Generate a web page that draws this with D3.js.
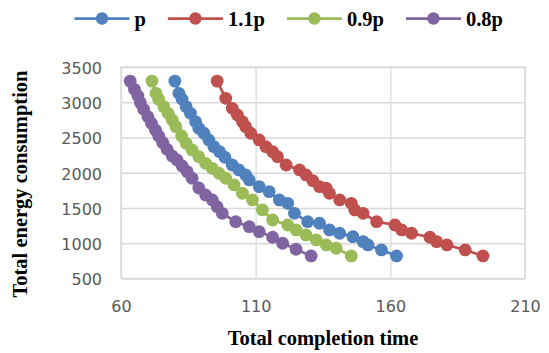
<!DOCTYPE html>
<html>
<head>
<meta charset="utf-8">
<script src="https://cdn.jsdelivr.net/npm/d3@7"></script>
<style>
  body { margin: 0; background: #fff; }
  svg { display: block; }
</style>
</head>
<body>
<div id="chart"></div>
<script>
// series data
const seriesNames = ["p", "1.1p", "0.9p", "0.8p"];

const timeP = [80.0, 81.5, 82.7, 84.2, 85.8, 87.7, 88.9, 90.8, 92.6, 94.5, 96.6, 98.6, 101.3, 103.8, 106.3, 107.6, 111.3, 115.0, 118.8, 121.9, 124.4, 129.3, 133.7, 137.4, 141.2, 146.1, 149.9, 151.7, 156.7, 162.3];
const energyP = [3300, 3127, 3042, 2937, 2843, 2724, 2631, 2560, 2465, 2370, 2299, 2220, 2110, 2040, 1969, 1898, 1803, 1732, 1614, 1567, 1425, 1306, 1284, 1189, 1142, 1094, 1023, 976, 905, 820];

const time11P = [95.7, 98.9, 101.3, 103.2, 105.1, 106.3, 108.2, 111.3, 113.8, 116.3, 118.1, 121.3, 126.3, 128.7, 131.2, 133.7, 136.2, 137.4, 141.2, 145.5, 146.8, 149.9, 154.9, 161.7, 164.2, 167.9, 174.7, 177.2, 181.0, 187.8, 194.4];
const energy11P = [3300, 3056, 2914, 2819, 2724, 2653, 2560, 2465, 2370, 2299, 2228, 2110, 2040, 1969, 1888, 1803, 1780, 1709, 1614, 1567, 1472, 1425, 1306, 1259, 1189, 1142, 1085, 1023, 976, 905, 820];

const time09P = [71.5, 73.0, 74.0, 75.9, 77.5, 79.0, 80.4, 82.5, 84.2, 86.4, 88.9, 91.4, 93.9, 96.4, 98.9, 102.0, 105.1, 108.8, 112.5, 116.3, 121.9, 125.0, 128.7, 132.5, 136.2, 139.9, 145.5];
const energy09P = [3300, 3127, 3042, 2937, 2843, 2748, 2653, 2522, 2418, 2323, 2228, 2134, 2063, 1993, 1922, 1827, 1709, 1614, 1472, 1330, 1259, 1189, 1118, 1047, 976, 929, 820];

const time08P = [63.4, 65.0, 66.3, 67.2, 68.4, 70.0, 71.3, 72.8, 74.0, 75.5, 77.1, 79.0, 80.8, 82.7, 84.6, 86.4, 88.9, 91.4, 93.9, 95.7, 97.6, 102.6, 107.6, 111.3, 116.3, 120.0, 125.0, 130.6];
const energy08P = [3300, 3184, 3089, 2994, 2900, 2795, 2702, 2607, 2522, 2427, 2333, 2238, 2181, 2096, 2015, 1922, 1784, 1685, 1614, 1519, 1425, 1306, 1235, 1165, 1085, 1000, 915, 820];

const xTicks = [60, 110, 160, 210];
const yTicks = [500, 1000, 1500, 2000, 2500, 3000, 3500];

const colors = ["#4F81BD", "#C0504D", "#9BBB59", "#8064A2"];

const series = [
  { name: seriesNames[0], t: timeP, e: energyP },
  { name: seriesNames[1], t: time11P, e: energy11P },
  { name: seriesNames[2], t: time09P, e: energy09P },
  { name: seriesNames[3], t: time08P, e: energy08P }
].map((s, i) => ({
  name: s.name,
  color: colors[i],
  points: s.t.map((t, j) => ({ time: t, energy: s.e[j] }))
}));

const W = 549, H = 353;
const margin = { top: 67, right: 24, bottom: 74.5, left: 121 };
const width = W - margin.left - margin.right;
const height = H - margin.top - margin.bottom;

const serif = "'Liberation Serif', 'Times New Roman', serif";
const sans = "'DejaVu Sans', sans-serif";

const svg = d3.select("#chart").append("svg")
  .attr("width", W)
  .attr("height", H);

const g = svg.append("g")
  .attr("transform", `translate(${margin.left},${margin.top})`);

const x = d3.scaleLinear().domain([60, 210]).range([0, width]);
const y = d3.scaleLinear().domain([500, 3500]).range([height, 0]);

// gridlines + tick labels
const yAxis = g.append("g")
  .call(d3.axisLeft(y).tickValues(yTicks).tickFormat(d3.format("d")).tickSize(-width).tickPadding(19));
const xAxis = g.append("g")
  .attr("transform", `translate(0,${height})`)
  .call(d3.axisBottom(x).tickValues(xTicks).tickFormat(d3.format("d")).tickSize(-height).tickPadding(22));

[xAxis, yAxis].forEach(a => {
  a.select(".domain").remove();
  a.selectAll(".tick line").attr("stroke", "#D9D9D9").attr("stroke-width", 1.3);
  a.selectAll(".tick text")
    .attr("fill", "#595959")
    .style("font-family", sans)
    .style("font-size", "16px");
});
yAxis.selectAll(".tick text").attr("dy", "0.4em");

g.append("rect")
  .attr("width", width)
  .attr("height", height)
  .attr("fill", "none")
  .attr("stroke", "#D9D9D9")
  .attr("stroke-width", 1.3);

const line = d3.line()
  .x(d => x(d.time))
  .y(d => y(d.energy));

series.forEach(s => {
  const sg = g.append("g");
  sg.append("path")
    .datum(s.points)
    .attr("fill", "none")
    .attr("stroke", s.color)
    .attr("stroke-width", 2.75)
    .attr("d", line);
  sg.selectAll("circle")
    .data(s.points)
    .join("circle")
    .attr("cx", d => x(d.time))
    .attr("cy", d => y(d.energy))
    .attr("r", 6.4)
    .attr("fill", s.color);
});

// axis titles
svg.append("text")
  .attr("x", margin.left + width / 2)
  .attr("y", 345)
  .attr("text-anchor", "middle")
  .style("font-family", serif)
  .style("font-size", "20.5px")
  .style("font-weight", "bold")
  .text("Total completion time");

svg.append("text")
  .attr("transform", `translate(27,${184}) rotate(-90)`)
  .attr("text-anchor", "middle")
  .style("font-family", serif)
  .style("font-size", "20.5px")
  .style("font-weight", "bold")
  .text("Total energy consumption");

// legend
const legend = svg.append("g").attr("transform", "translate(74.5,18.5)");
let lx = 0;
series.forEach(s => {
  const item = legend.append("g").attr("transform", `translate(${lx},0)`);
  item.append("line")
    .attr("x1", 0).attr("x2", 55)
    .attr("stroke", s.color)
    .attr("stroke-width", 2.75);
  item.append("circle")
    .attr("cx", 27.5)
    .attr("r", 6.2)
    .attr("fill", s.color);
  const t = item.append("text")
    .attr("x", 60)
    .attr("y", 7)
    .style("font-family", serif)
    .style("font-size", "20.5px")
    .style("font-weight", "bold")
    .text(s.name);
  lx += 60 + t.node().getComputedTextLength() + 22;
});
</script>
</body>
</html>
